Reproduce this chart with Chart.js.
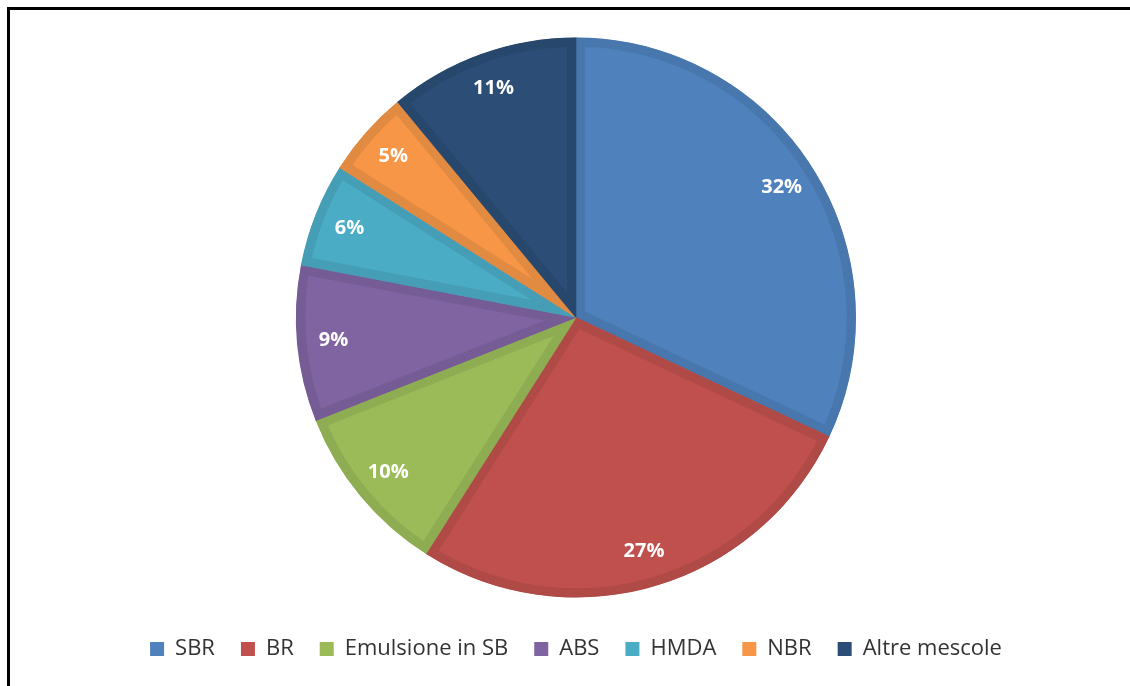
<!DOCTYPE html>
<html>
<head>
<meta charset="utf-8">
<script src="https://cdn.jsdelivr.net/npm/chart.js@4/dist/chart.umd.min.js"></script>
<style>
  html, body { margin: 0; padding: 0; background: #fff; }
  #wrap { position: relative; width: 1130px; height: 686px; overflow: hidden; }
  #frame { position: absolute; left: 7px; top: 7px; right: -10px; bottom: -10px;
           border-top: 3px solid #000; border-left: 3px solid #000; pointer-events: none; }
  canvas { position: absolute; left: 0; top: 0; }
</style>
</head>
<body>
<div id="wrap">
  <canvas id="c" width="1130" height="686"></canvas>
  <div id="frame"></div>
</div>
<script>
// Quote di mercato per tipo di mescola (%)
const categories = ['SBR', 'BR', 'Emulsione in SB', 'ABS', 'HMDA', 'NBR', 'Altre mescole'];
const shares = [32, 27, 10, 9, 6, 5, 11];
const fillColors = ['#4F81BD', '#C0504D', '#9BBB59', '#8064A2', '#4BACC6', '#F79646', '#2C4D75'];
const edgeColors = ['#4877AE', '#B04A47', '#8EAC52', '#765C95', '#459EB6', '#E08A42', '#28476C'];

// Etichette percentuali bianche dentro le fette
const sliceLabels = {
  id: 'sliceLabels',
  afterDatasetsDraw(chart) {
    const ctx = chart.ctx;
    const meta = chart.getDatasetMeta(0);
    const values = chart.data.datasets[0].data;
    ctx.save();
    ctx.fillStyle = '#ffffff';
    ctx.font = 'bold 20px "Open Sans", Lato, sans-serif';
    ctx.textAlign = 'center';
    ctx.textBaseline = 'middle';
    meta.data.forEach((arc, i) => {
      const p = arc.getProps(['x', 'y', 'startAngle', 'endAngle', 'outerRadius'], true);
      const mid = (p.startAngle + p.endAngle) / 2;
      const r = p.outerRadius * 0.87;
      ctx.fillText(values[i] + '%', p.x + Math.cos(mid) * r, p.y + Math.sin(mid) * r);
    });
    ctx.restore();
  }
};

new Chart(document.getElementById('c'), {
  type: 'pie',
  data: {
    labels: categories,
    datasets: [{
      data: shares,
      backgroundColor: fillColors,
      borderColor: edgeColors,
      borderWidth: 9,
      borderAlign: 'inner',
      hoverOffset: 0,
      radius: 280
    }]
  },
  options: {
    responsive: false,
    animation: false,
    layout: { padding: { top: 23, left: 22, right: 0, bottom: 16 } },
    plugins: {
      tooltip: { enabled: false },
      legend: {
        position: 'bottom',
        labels: {
          boxWidth: 14,
          boxHeight: 14,
          padding: 26,
          color: '#333333',
          font: { family: '"Open Sans", Lato, sans-serif', size: 22 },
          generateLabels(chart) {
            return categories.map((name, i) => ({
              text: name,
              fillStyle: fillColors[i],
              strokeStyle: fillColors[i],
              lineWidth: 0,
              hidden: false,
              index: i,
              fontColor: '#333333'
            }));
          }
        }
      }
    }
  },
  plugins: [sliceLabels]
});
</script>
</body>
</html>
